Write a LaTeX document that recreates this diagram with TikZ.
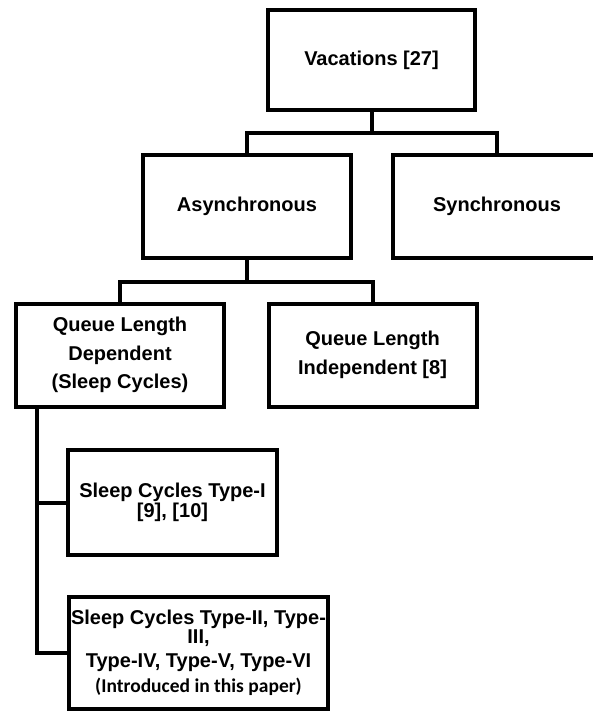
\documentclass[tikz,border=0pt]{standalone}
\usepackage{fontspec}
\setmainfont{Liberation Sans}
\newfontfamily\calibri{Carlito}
\usetikzlibrary{positioning}

\begin{document}
\begin{tikzpicture}[x=1pt, y=-1pt]
    \tikzset{box/.style={draw, line width=4pt, rectangle, inner sep=0pt, outer sep=0pt, align=center,
      minimum width=208pt, minimum height=103pt, font=\bfseries\fontsize{20}{28.5}\selectfont},
      tight/.style={font=\bfseries\fontsize{20}{#1}\selectfont, execute at begin node={\lineskiplimit=-50pt\relax}},
      link/.style={line width=4pt}}
    \clip (0,0) rectangle (593,713);
    \node[box, minimum width=207pt, minimum height=100pt] (vac) at (371.5,60) {Vacations [27]};
    \node[box] (async) at (247,206.5) {Asynchronous};
    \node[box] (sync) at (497,206.5) {Synchronous};
    \node[box] (qld) at (120,355) {Queue Length\\Dependent\\(Sleep Cycles)};
    \node[box] (qli) at (372.5,355) {Queue Length\\Independent [8]};
    \node[box, minimum width=209pt, minimum height=105pt, tight=20] (tone) at (172.5,502.5) {Sleep Cycles Type-I\\{[9], [10]}};
    \node[box, minimum width=259pt, minimum height=112pt, tight=18.5] (ttwo) at (198.5,653)
      {Sleep Cycles Type-II, Type-\\III,\\[6pt]Type-IV, Type-V, Type-VI\\[6pt]{\calibri\fontsize{19.5}{18.5}\selectfont (Introduced in this paper)}};
    \coordinate (trunk) at (37,653);
    \draw[link] (vac.south) -- ++(0,23) coordinate (v1) -| (async.north);
    \draw[link] (v1) -| (sync.north);
    \draw[link] (async.south) -- ++(0,24) coordinate (a1) -| (qld.north);
    \draw[link] (a1) -| (qli.north);
    \draw[link] (qld.south -| trunk) -- (trunk) -- (ttwo.west);
    \draw[link] (tone.west -| trunk) -- (tone.west);
\end{tikzpicture}
\end{document}
